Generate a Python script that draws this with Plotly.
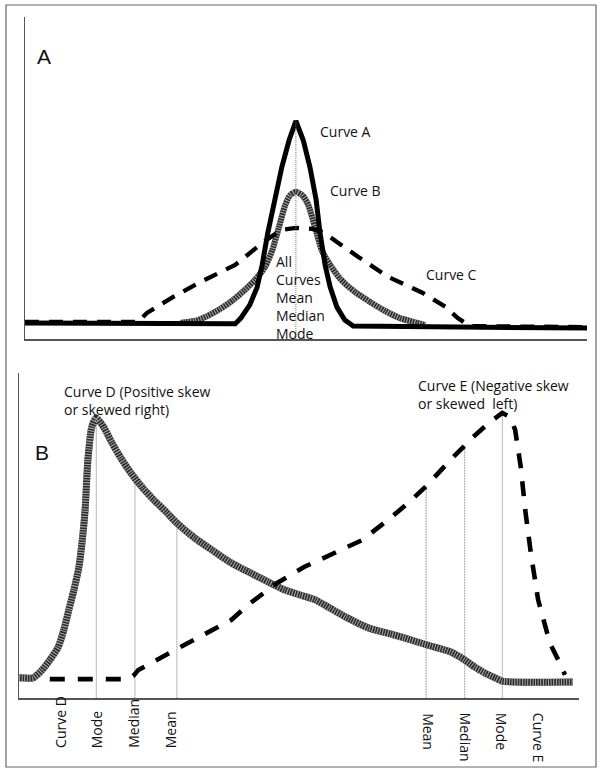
import plotly.graph_objects as go

# ---------------- Panel A data (score 0-100, frequency 0-100) ----------------
curve_a_x = [0, 37.4, 38.4, 40.0, 41.3, 42.2, 43.2, 44.5, 45.7, 47.0, 48.2,
             49.5, 50.7, 51.8, 52.5, 53.4, 54.3, 55.5, 56.9, 58.4, 100]
curve_a_y = [5.0, 4.7, 6.5, 10.6, 16.1, 23.0, 32.9, 43.2, 53.4, 61.8, 67.7,
             61.8, 53.4, 43.2, 32.9, 23.0, 16.1, 9.9, 5.9, 4.0, 3.4]

curve_b_x = [27.6, 30.2, 32.4, 34.7, 37.0, 39.1, 40.9, 42.7, 44.0, 45.2, 46.3, 47.2,
             48.2, 49.3, 50.4, 51.6, 52.8, 54.3, 56.0, 58.7, 61.4, 64.1, 66.7, 69.8, 71.2]
curve_b_y = [5.0, 5.6, 7.1, 9.3, 12.1, 15.2, 18.3, 22.4, 27.6, 34.8, 41.6, 44.7,
             45.7, 44.7, 41.6, 34.8, 27.6, 23.0, 18.9, 14.6, 11.5, 8.7, 6.5, 5.0, 4.3]

curve_c_x = [0, 20.1, 21.7, 26.3, 31.9, 37.4, 42.2, 45.6, 48.2, 51.1, 53.0,
             55.7, 59.3, 64.6, 70.8, 74.9, 77.0, 79.2, 100]
curve_c_y = [5.3, 5.3, 8.1, 13.0, 18.3, 23.0, 29.8, 33.9, 34.5, 34.2, 33.2,
             29.8, 25.5, 19.3, 14.3, 9.9, 6.5, 4.0, 3.7]

center_a = 48.2
center_a_top = 67.7

# ---------------- Panel B data ----------------
curve_d_x = [0, 2.5, 4.1, 5.5, 7.0, 8.0, 8.9, 9.8, 10.7, 11.3, 11.8, 12.3, 13.0, 13.8,
             15.2, 16.6, 18.2, 20.0, 22.1, 24.1, 26.3, 28.2, 31.4, 34.5, 37.7, 41.3,
             44.5, 47.5, 50.2, 52.9, 55.5, 58.4, 62.5, 66.3, 68.8, 72.9, 77.0, 79.6,
             81.4, 83.2, 85.0, 86.3, 98.9]
curve_d_y = [6.2, 6.2, 8.6, 11.7, 15.7, 20.9, 27.1, 33.2, 40.3, 48.6, 57.8, 73.2, 83.4, 86.2,
             83.1, 78.5, 73.8, 69.2, 64.6, 60.9, 57.2, 53.8, 49.2, 45.5, 41.8, 38.5,
             35.7, 33.2, 31.7, 30.2, 27.7, 24.9, 21.5, 19.7, 18.5, 16.3, 14.2, 11.7,
             9.5, 7.7, 6.2, 5.2, 4.9]

curve_e_x = [5.5, 19.3, 20.4, 21.3, 26.8, 32.3, 37.9, 41.3, 46.1, 50.9, 56.4, 61.3,
             65.9, 69.5, 72.9, 77.0, 81.1, 84.1, 86.3, 87.7, 88.6, 89.6, 90.4, 91.4,
             92.7, 93.8, 94.8, 96.3, 97.5]
curve_e_y = [5.8, 5.8, 6.8, 8.6, 13.8, 18.8, 24.0, 29.2, 35.4, 40.3, 44.6, 48.6,
             54.8, 60.0, 65.5, 73.2, 80.3, 84.9, 87.7, 86.5, 82.5, 71.1, 57.8, 44.6,
             30.2, 22.5, 16.9, 11.7, 7.1]

# mode / median / mean markers (x, height of curve)
d_stats_x = [13.8, 20.7, 28.2]
d_stats_y = [86.2, 68.0, 53.8]
e_stats_x = [72.7, 79.6, 86.3]
e_stats_y = [65.2, 77.7, 87.7]

left_labels = ["Curve D", "Mode", "Median", "Mean"]
left_label_x = [7.3, 13.8, 20.4, 27.1]
right_labels = ["Mean", "Median", "Mode", "Curve E"]
right_label_x = [73.1, 79.8, 86.3, 92.8]

W, H = 602, 774
FONT = "Open Sans"

fig = go.Figure()


def add_line(x, y, xa, ya, color, width, dash="solid", shape="linear"):
    fig.add_trace(go.Scatter(
        x=x, y=y, mode="lines", xaxis=xa, yaxis=ya,
        line=dict(color=color, width=width, dash=dash, shape=shape, smoothing=0.6),
        hoverinfo="skip", showlegend=False))


def add_hatched(x, y, xa, ya, width):
    add_line(x, y, xa, ya, "#2a2a2a", width, "solid", "spline")
    add_line(x, y, xa, ya, "#a8a8a8", width, "1px,1.6px", "spline")


# Panel A traces
add_hatched(curve_b_x, curve_b_y, "x", "y", 6)
add_line(curve_c_x, curve_c_y, "x", "y", "#000000", 4.3, "14px,10px")
add_line(curve_a_x, curve_a_y, "x", "y", "#000000", 5)
add_line([center_a, center_a], [0, center_a_top], "x", "y", "#777777", 1, "1px,1px")

# Panel B traces
for sx, sy in zip(d_stats_x + e_stats_x, d_stats_y + e_stats_y):
    add_line([sx, sx], [0, sy], "x2", "y2", "#8a8a8a", 1, "1px,0.6px")
add_hatched(curve_d_x, curve_d_y, "x2", "y2", 7)
add_line(curve_e_x, curve_e_y, "x2", "y2", "#000000", 4.6, "15px,13px")

axis_common = dict(showgrid=False, zeroline=False, showticklabels=False, ticks="",
                   showline=True, linecolor="#555555", linewidth=1.5, fixedrange=True)

fig.update_layout(
    width=W, height=H,
    margin=dict(l=0, r=0, t=0, b=0),
    paper_bgcolor="white", plot_bgcolor="white",
    showlegend=False,
    xaxis=dict(domain=[25 / W, 587 / W], range=[0, 100], anchor="y", **axis_common),
    yaxis=dict(domain=[1 - 339 / H, 1 - 17 / H], range=[0, 100], anchor="x", **axis_common),
    xaxis2=dict(domain=[19 / W, 579 / W], range=[0, 100], anchor="y2", **axis_common),
    yaxis2=dict(domain=[1 - 698 / H, 1 - 373 / H], range=[0, 100], anchor="x2", **axis_common),
    shapes=[dict(type="rect", xref="paper", yref="paper",
                 x0=6 / W, x1=596 / W, y0=1 - 767 / H, y1=1 - 5 / H,
                 line=dict(color="#666666", width=1.2))],
)

ann = []
txt = dict(family=FONT, size=14, color="#111111")


def note(text, x, y, xr, yr, xanchor="left", yanchor="middle", font=txt, angle=0):
    ann.append(dict(text=text, x=x, y=y, xref=xr, yref=yr, xanchor=xanchor,
                    yanchor=yanchor, showarrow=False, font=font, textangle=angle,
                    align="left"))


big = dict(family="Liberation Sans", size=21, color="#111111")
note("A", 3.4, 87.6, "x", "y", "center", font=big)
note("Curve A", 52.1, 64.3, "x", "y")
note("Curve B", 53.9, 46.0, "x", "y")
note("Curve C", 71.0, 19.9, "x", "y")
all_lines = ["All", "Curves", "Mean", "Median", "Mode"]
for i, t in enumerate(all_lines):
    note(t, 44.3, (339 - (261 + 18 * i)) / 3.22, "x", "y")

note("B", 4.1, 75.4, "x2", "y2", "center", font=big)
note("Curve D (Positive skew<br>or skewed right)", 7.7, 91.4, "x2", "y2")
note("Curve E (Negative skew<br>or skewed  left)", 70.9, 93.5, "x2", "y2")

for t, x in zip(left_labels, left_label_x):
    note(t, x, 1 - 750 / H, "x2", "paper", "center", "bottom", angle=-90)
for t, x in zip(right_labels, right_label_x):
    note(t, x, 1 - 711 / H, "x2", "paper", "center", "top", angle=90)

fig.update_layout(annotations=ann)
fig.write_html("out.html", config={"displayModeBar": False, "staticPlot": True},
               post_script="document.body.style.margin='0px';document.body.style.padding='0px';")
